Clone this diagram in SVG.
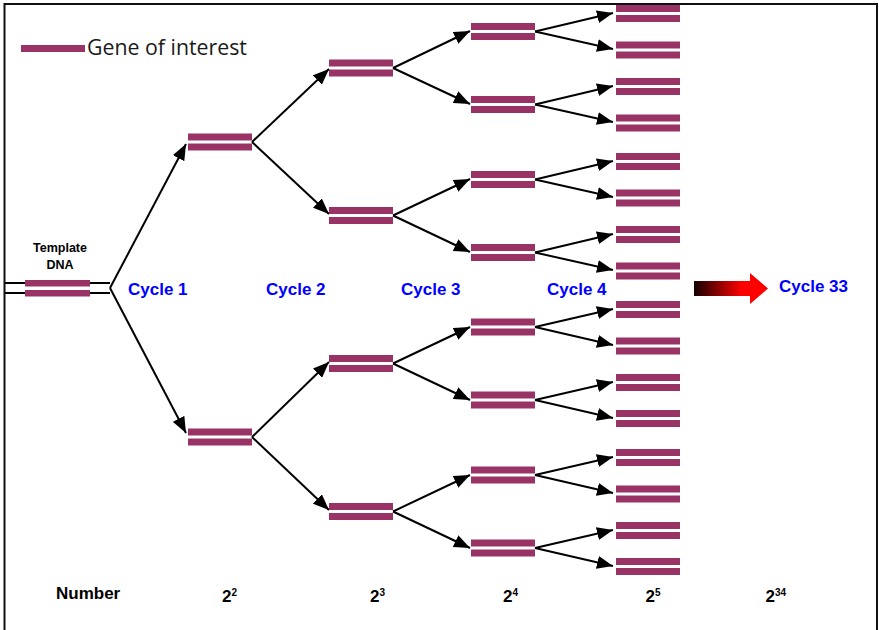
<svg xmlns="http://www.w3.org/2000/svg" xmlns:xlink="http://www.w3.org/1999/xlink" width="879" height="630" viewBox="0 0 879 630">
<style>
.b{fill:#993366}
.c{stroke:#000;stroke-width:2;fill:none}
.cy{font-family:"Liberation Sans",Arial,sans-serif;font-weight:bold;font-size:17px;fill:#0000FF}
.n{font-family:"Liberation Sans",Arial,sans-serif;font-weight:bold;font-size:17px;fill:#000}
.s{font-size:10px}
</style>
<defs>
<g id="pair"><rect class="b" x="0" y="-8.5" width="64" height="7"/><rect class="b" x="0" y="1.5" width="64" height="7"/></g>
<marker id="ah" markerUnits="userSpaceOnUse" markerWidth="17" markerHeight="13" refX="16" refY="6.5" orient="auto"><path d="M0,0 L16,6.5 L0,13 z" fill="#000"/></marker>
<linearGradient id="gr" x1="0" y1="0" x2="1" y2="0"><stop offset="0" stop-color="#140000"/><stop offset="0.65" stop-color="#ff0000"/><stop offset="1" stop-color="#ff0000"/></linearGradient>
</defs>
<rect width="879" height="630" fill="#fff"/>
<path d="M4.5,632 V4 H877 V632" fill="none" stroke="#111" stroke-width="2"/>
<g id="legend"><rect class="b" x="21" y="45" width="64" height="7"/><text x="87" y="55" font-family="'Open Sans',sans-serif" font-size="21.3" fill="#1a1a1a">Gene of interest</text></g>
<g id="template">
<path d="M5,283 H110 M5,293 H110" stroke="#000" stroke-width="1.8"/>
<rect class="b" x="25" y="280" width="65" height="6.5"/><rect class="b" x="25" y="290" width="65" height="6.5"/>
<text x="60" y="252" text-anchor="middle" font-family="'Liberation Sans',Arial,sans-serif" font-weight="bold" font-size="12.5">Template</text>
<text x="60" y="269" text-anchor="middle" font-family="'Liberation Sans',Arial,sans-serif" font-weight="bold" font-size="12.5">DNA</text>
</g>
<g id="connectors" class="c">
<line x1="110" y1="288" x2="186" y2="144" marker-end="url(#ah)"/>
<line x1="110" y1="288" x2="186" y2="433" marker-end="url(#ah)"/>
<line x1="252" y1="142" x2="329" y2="69" marker-end="url(#ah)"/>
<line x1="252" y1="142" x2="329" y2="214" marker-end="url(#ah)"/>
<line x1="252" y1="437" x2="329" y2="362" marker-end="url(#ah)"/>
<line x1="252" y1="437" x2="329" y2="510" marker-end="url(#ah)"/>
<line x1="393" y1="68" x2="470" y2="31" marker-end="url(#ah)"/>
<line x1="393" y1="68" x2="470" y2="104" marker-end="url(#ah)"/>
<line x1="393" y1="215.5" x2="470" y2="179" marker-end="url(#ah)"/>
<line x1="393" y1="215.5" x2="470" y2="252" marker-end="url(#ah)"/>
<line x1="393" y1="363.5" x2="470" y2="327" marker-end="url(#ah)"/>
<line x1="393" y1="363.5" x2="470" y2="400" marker-end="url(#ah)"/>
<line x1="393" y1="511.5" x2="470" y2="475" marker-end="url(#ah)"/>
<line x1="393" y1="511.5" x2="470" y2="548" marker-end="url(#ah)"/>
<line x1="535" y1="31.5" x2="613" y2="13" marker-end="url(#ah)"/>
<line x1="535" y1="31.5" x2="613" y2="49" marker-end="url(#ah)"/>
<line x1="535" y1="104.5" x2="613" y2="86" marker-end="url(#ah)"/>
<line x1="535" y1="104.5" x2="613" y2="122" marker-end="url(#ah)"/>
<line x1="535" y1="179.5" x2="613" y2="161" marker-end="url(#ah)"/>
<line x1="535" y1="179.5" x2="613" y2="197" marker-end="url(#ah)"/>
<line x1="535" y1="252.5" x2="613" y2="234" marker-end="url(#ah)"/>
<line x1="535" y1="252.5" x2="613" y2="270" marker-end="url(#ah)"/>
<line x1="535" y1="327" x2="613" y2="309" marker-end="url(#ah)"/>
<line x1="535" y1="327" x2="613" y2="345" marker-end="url(#ah)"/>
<line x1="535" y1="400" x2="613" y2="382" marker-end="url(#ah)"/>
<line x1="535" y1="400" x2="613" y2="418" marker-end="url(#ah)"/>
<line x1="535" y1="475" x2="613" y2="457" marker-end="url(#ah)"/>
<line x1="535" y1="475" x2="613" y2="493" marker-end="url(#ah)"/>
<line x1="535" y1="548" x2="613" y2="530" marker-end="url(#ah)"/>
<line x1="535" y1="548" x2="613" y2="566" marker-end="url(#ah)"/>
</g>
<g id="c1a"><use xlink:href="#pair" x="188" y="142"/></g>
<g id="c1b"><use xlink:href="#pair" x="188" y="437"/></g>
<g id="c2a"><use xlink:href="#pair" x="329" y="68"/></g>
<g id="c2b"><use xlink:href="#pair" x="329" y="215.5"/></g>
<g id="c2c"><use xlink:href="#pair" x="329" y="363.5"/></g>
<g id="c2d"><use xlink:href="#pair" x="329" y="511.5"/></g>
<g id="c3a"><use xlink:href="#pair" x="471" y="31.5"/></g>
<g id="c3b"><use xlink:href="#pair" x="471" y="104.5"/></g>
<g id="c3c"><use xlink:href="#pair" x="471" y="179.5"/></g>
<g id="c3d"><use xlink:href="#pair" x="471" y="252.5"/></g>
<g id="c3e"><use xlink:href="#pair" x="471" y="327"/></g>
<g id="c3f"><use xlink:href="#pair" x="471" y="400"/></g>
<g id="c3g"><use xlink:href="#pair" x="471" y="475"/></g>
<g id="c3h"><use xlink:href="#pair" x="471" y="548"/></g>
<g id="c4a"><use xlink:href="#pair" x="616" y="13.5"/></g>
<g id="c4b"><use xlink:href="#pair" x="616" y="50"/></g>
<g id="c4c"><use xlink:href="#pair" x="616" y="86.5"/></g>
<g id="c4d"><use xlink:href="#pair" x="616" y="123"/></g>
<g id="c4e"><use xlink:href="#pair" x="616" y="161.5"/></g>
<g id="c4f"><use xlink:href="#pair" x="616" y="198"/></g>
<g id="c4g"><use xlink:href="#pair" x="616" y="234.5"/></g>
<g id="c4h"><use xlink:href="#pair" x="616" y="271"/></g>
<g id="c4i"><use xlink:href="#pair" x="616" y="309.5"/></g>
<g id="c4j"><use xlink:href="#pair" x="616" y="346"/></g>
<g id="c4k"><use xlink:href="#pair" x="616" y="382.5"/></g>
<g id="c4l"><use xlink:href="#pair" x="616" y="418.5"/></g>
<g id="c4m"><use xlink:href="#pair" x="616" y="457.5"/></g>
<g id="c4n"><use xlink:href="#pair" x="616" y="494"/></g>
<g id="c4o"><use xlink:href="#pair" x="616" y="530.5"/></g>
<g id="c4p"><use xlink:href="#pair" x="616" y="566.5"/></g>
<g id="bigarrow"><polygon points="694,281 750,281 750,273 768,288.5 750,304 750,296 694,296" fill="url(#gr)"/></g>
<g id="labels">
<text class="cy" x="128" y="295">Cycle 1</text>
<text class="cy" x="266" y="295">Cycle 2</text>
<text class="cy" x="401" y="295">Cycle 3</text>
<text class="cy" x="547" y="295">Cycle 4</text>
<text class="cy" x="779" y="292">Cycle 33</text>
<text class="n" x="56" y="599" font-size="19">Number</text>
<text class="n" x="222" y="602">2<tspan class="s" dy="-6">2</tspan></text>
<text class="n" x="370" y="602">2<tspan class="s" dy="-6">3</tspan></text>
<text class="n" x="503" y="602">2<tspan class="s" dy="-6">4</tspan></text>
<text class="n" x="645.5" y="602">2<tspan class="s" dy="-6">5</tspan></text>
<text class="n" x="765.5" y="602">2<tspan class="s" dy="-6">34</tspan></text>
</g>
</svg>
